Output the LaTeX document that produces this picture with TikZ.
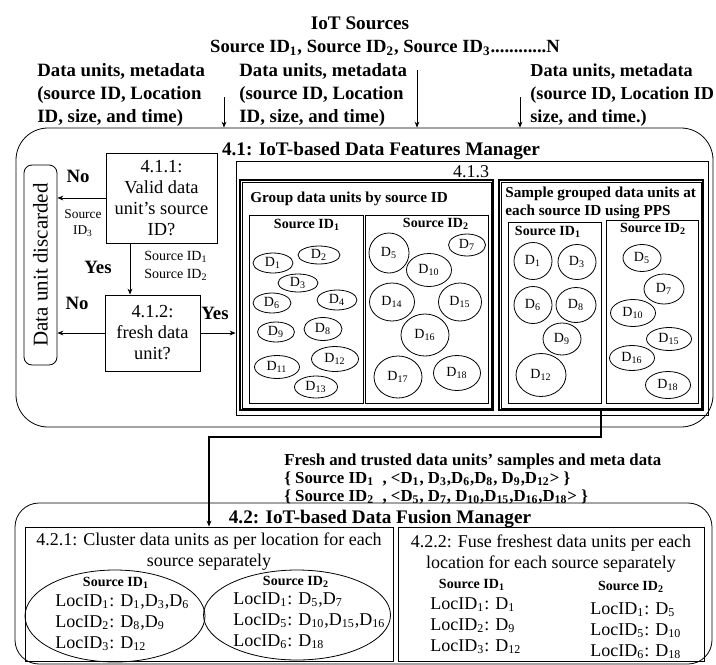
\documentclass[tikz,border=0pt]{standalone}
\usepackage{fontspec}
\setmainfont{Liberation Serif}
\usetikzlibrary{shapes.geometric, arrows.meta, positioning}

\newcommand{\Dn}[1]{D\textsubscript{#1}}
\newcommand{\Sid}[1]{Source ID\textsubscript{#1}}
\newcommand{\Loc}[1]{LocID\textsubscript{#1}}

\begin{document}
\begin{tikzpicture}[
  x=0.5pt, y=-0.5pt,
  font=\fontsize{9}{10.5}\selectfont,
  every node/.style={inner sep=0pt},
  ttl/.style={font=\fontsize{9.6}{11.5}\selectfont\bfseries},
  hdr/.style={font=\fontsize{9.4}{11.5}\selectfont\bfseries, align=left, anchor=west},
  yn/.style={font=\fontsize{9.4}{11}\selectfont\bfseries},
  mgr/.style={rectangle, draw, thin, rounded corners=16pt},
  decision/.style={rectangle, draw, thin, align=center,
                   font=\fontsize{9.2}{10.5}\selectfont},
  note/.style={font=\fontsize{6.7}{8}\selectfont, align=center},
  grp/.style={font=\fontsize{7.6}{8.6}\selectfont\bfseries, align=left, anchor=west},
  sid/.style={font=\fontsize{7}{8}\selectfont\bfseries},
  unit/.style={ellipse, draw, thin, font=\fontsize{7}{8}\selectfont},
  dbl/.style={rectangle, draw, line width=1pt},
  loc/.style={font=\fontsize{9}{10.5}\selectfont, align=left, anchor=west},
  arr/.style={-{Stealth[length=3pt,width=2.4pt]}, thin},
]
  \useasboundingbox (0,0) rectangle (716,664);

  % IoT sources and incoming data units
  \node[ttl] (iot) at (360,23) {IoT Sources};
  \node[ttl, font=\fontsize{9.3}{11.5}\selectfont\bfseries] (ids) at (385,48)
    {\Sid{1}, \Sid{2}, \Sid{3}............N};
  \node[hdr] (du1) at (37,95) {Data units, metadata\\(source ID, Location\\ID, size, and time)};
  \node[hdr] (du2) at (239,95) {Data units, metadata\\(source ID, Location\\ID, size, and time)};
  \node[hdr, font=\fontsize{9.1}{11.5}\selectfont\bfseries] (du3) at (530,95)
    {Data units, metadata\\(source ID, Location ID\\size, and time.)};

  % 4.1 features manager
  \node[mgr, minimum width=348.5pt, minimum height=149.5pt] (m41) at (364.5,277.5) {};
  \node[ttl] (h41) at (381,151) {4.1: IoT-based Data Features Manager};
  \coordinate (in1) at (224,97);
  \coordinate (in2) at (417,70);
  \coordinate (in3) at (520,97);
  \draw[arr] (in1) -- (in1 |- m41.north);
  \draw[arr] (in2) -- (in2 |- m41.north);
  \draw[arr] (in3) -- (in3 |- m41.north);

  \node[rectangle, draw, thin, rounded corners=4pt, minimum width=16.5pt,
        minimum height=100pt, font=\fontsize{10.5}{12}\selectfont]
    (disc) at (40.5,265) {\rotatebox{90}{Data unit discarded}};
  \node[decision, minimum width=55.5pt, minimum height=45pt] (d1) at (161.5,198)
    {4.1.1:\\Valid data\\unit’s source\\ID?};
  \node[decision, minimum width=47.5pt, minimum height=38pt] (d2) at (152.5,333)
    {4.1.2:\\fresh data\\unit?};
  \coordinate (d1s) at ([xshift=-15.75pt]d1.south);
  \draw[arr] (d1.west) -- (d1.west -| disc.east);
  \draw[arr] (d2.west) -- (d2.west -| disc.east);
  \draw[arr] (d1s) -- (d1s |- d2.north);

  \node[yn] (no1) at (78,176) {No};
  \node[note] (src3) at (83,223) {Source\\ID\textsubscript{3}};
  \node[yn] (yes1) at (98,267) {Yes};
  \node[note, font=\fontsize{7}{9}\selectfont] (src12) at (176,266) {\Sid{1}\\\Sid{2}};
  \node[yn] (no2) at (77,303) {No};
  \node[yn] (yes2) at (215,313) {Yes};

  % 4.1.3 grouping and sampling
  \node[rectangle, draw, thin, minimum width=236pt, minimum height=127pt] (b413) at (472,288) {};
  \node (n413) at (471,172) {4.1.3};
  \draw[arr] (d2.east) -- (d2.east -| b413.west);

  \node[dbl, minimum width=126.5pt, minimum height=115pt] (grp) at (366.5,295) {};
  \draw[thin] ([shift={(3,3)}]grp.north west) rectangle ([shift={(-3,-3)}]grp.south east);
  \node[grp] (grpt) at (250,199) {Group data units by source ID};
  \draw[thin] (249,215) rectangle (363,403);
  \draw[thin] (365,215) rectangle (488,403);
  \node[sid] (g1t) at (307,225) {\Sid{1}};
  \node[sid] (g2t) at (436,224) {\Sid{2}};
  \foreach \n/\px/\py/\w/\h in {1/273/263/40/20, 2/319/255/42/18, 3/298/283/40/18,
      6/272/303/38/20, 4/337/300/40/20, 9/276/332/37/20, 8/323/329/38/23,
      11/277/367/45/23, 12/335/359/47/25, 13/316/387/43/22}
    \node[unit, minimum width=\w*0.5pt, minimum height=\h*0.5pt] (g1-\n) at (\px,\py) {\Dn{\n}};
  \foreach \n/\px/\py/\w/\h in {5/389/253/40/40, 7/467/245/37/22, 10/429/270/45/33,
      14/392/302/45/38, 15/460/302/43/38, 16/425/335/48/42, 17/398/377/48/42,
      18/457/373/47/35}
    \node[unit, minimum width=\w*0.5pt, minimum height=\h*0.5pt] (g2-\n) at (\px,\py) {\Dn{\n}};

  \node[dbl, minimum width=102pt, minimum height=115pt] (smp) at (601,295) {};
  \draw[thin] ([shift={(3,3)}]smp.north west) rectangle ([shift={(-3,-3)}]smp.south east);
  \node[grp] (smpt) at (505,203) {Sample grouped data units at\\each source ID using PPS};
  \draw[thin] (508,222) rectangle (601,403);
  \draw[thin] (606,220) rectangle (698,403);
  \node[sid] (s1t) at (548,232) {\Sid{1}};
  \node[sid] (s2t) at (653,229) {\Sid{2}};
  \foreach \n/\px/\py/\w/\h in {1/533/261/38/37, 3/577/262/38/35, 6/533/305/38/37,
      8/576/305/40/35, 9/562/339/38/32, 12/541/375/50/43}
    \node[unit, minimum width=\w*0.5pt, minimum height=\h*0.5pt] (s1-\n) at (\px,\py) {\Dn{\n}};
  \foreach \n/\px/\py/\w/\h in {5/642/258/38/27, 7/664/289/40/30, 10/633/313/45/27,
      15/669/339/45/23, 16/632/358/45/25, 18/668/385/45/27}
    \node[unit, minimum width=\w*0.5pt, minimum height=\h*0.5pt] (s2-\n) at (\px,\py) {\Dn{\n}};

  % samples handed over
  \node[hdr, font=\fontsize{8.4}{8.8}\selectfont\bfseries] (fresh) at (284,479)
    {Fresh and trusted data units' samples and meta data\\
     \{ Source ID\textsubscript{1}\ \ , <\Dn{1}, \Dn{3},\Dn{6},\Dn{8}, \Dn{9},\Dn{12}> \}\\
     \{ Source ID\textsubscript{2}\ \ , <\Dn{5}, \Dn{7}, \Dn{10},\Dn{15},\Dn{16},\Dn{18}> \}};

  % 4.2 fusion manager
  \node[mgr, rounded corners=12pt, minimum width=348.5pt, minimum height=80.5pt] (m42) at (363.5,583.5) {};
  \node[ttl] (h42) at (380,519) {4.2: IoT-based Data Fusion Manager};
  \node[rectangle, draw, thin, minimum width=184pt, minimum height=67pt] (b421) at (209,594) {};
  \node[rectangle, draw, thin, minimum width=153pt, minimum height=67pt] (b422) at (551,594) {};
  \node[align=center] (b421t) at (209,552) {4.2.1: Cluster data units as per location for each\\source separately};
  \node[align=center] (b422t) at (551,554) {4.2.2: Fuse freshest data units per each\\location for each source separately};
  \draw[arr, thick] (smp.south) -- ++(0,26) -| (b421.north);

  \node[ellipse, draw, thin, minimum width=90pt, minimum height=46pt] (e1) at (115,616) {};
  \node[ellipse, draw, thin, minimum width=93.5pt, minimum height=45pt] (e2) at (297,615) {};
  \node[sid] (e1t) at (116,583) {\Sid{1}};
  \node[sid] (e2t) at (296,582) {\Sid{2}};
  \node[loc] (e1l) at (55,623) {\Loc{1}: \Dn{1},\Dn{3},\Dn{6}\\\Loc{2}: \Dn{8},\Dn{9}\\\Loc{3}: \Dn{12}};
  \node[loc] (e2l) at (233,621) {\Loc{1}: \Dn{5},\Dn{7}\\\Loc{5}: \Dn{10},\Dn{15},\Dn{16}\\\Loc{6}: \Dn{18}};

  \node[sid] (f1t) at (472,585) {\Sid{1}};
  \node[sid] (f2t) at (631,587) {\Sid{2}};
  \node[loc] (f1l) at (430,626) {\Loc{1}: \Dn{1}\\\Loc{2}: \Dn{9}\\\Loc{3}: \Dn{12}};
  \node[loc] (f2l) at (590,631) {\Loc{1}: \Dn{5}\\\Loc{5}: \Dn{10}\\\Loc{6}: \Dn{18}};
\end{tikzpicture}
\end{document}
